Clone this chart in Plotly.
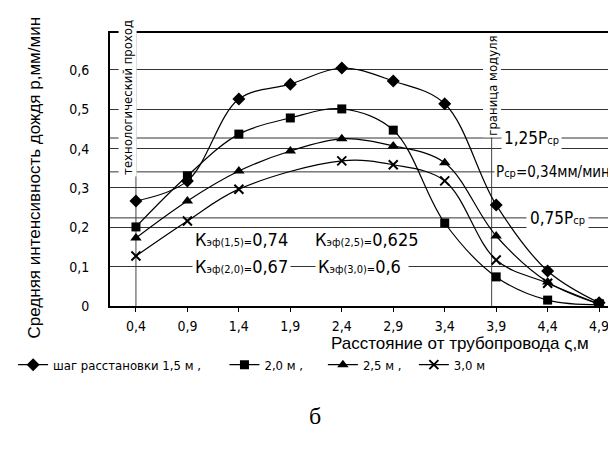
import plotly.graph_objects as go

# ---- data ----
distance = [0.4, 0.9, 1.4, 1.9, 2.4, 2.9, 3.4, 3.9, 4.4, 4.9]
step_15 = [0.267, 0.318, 0.526, 0.564, 0.605, 0.572, 0.514, 0.257, 0.089, 0.008]
step_20 = [0.201, 0.331, 0.437, 0.478, 0.501, 0.447, 0.211, 0.074, 0.015, 0.003]
step_25 = [0.173, 0.267, 0.343, 0.394, 0.425, 0.407, 0.364, 0.178, 0.061, 0.005]
distance_30 = [0.4, 0.9, 1.4, 2.4, 2.9, 3.4, 3.9, 4.4, 4.9]
step_30 = [0.127, 0.216, 0.297, 0.369, 0.359, 0.318, 0.117, 0.058, 0.005]

series_names = ["шаг расстановки 1,5 м ,", "2,0 м ,", "2,5 м ,", "3,0 м"]
legend_pad = [5, 4, 2, 0]   # extra spacing after each legend entry

x_tickvals = [0.4, 0.9, 1.4, 1.9, 2.4, 2.9, 3.4, 3.9, 4.4, 4.9]
x_ticktext = ["0,4", "0,9", "1,4", "1,9", "2,4", "2,9", "3,4", "3,9", "4,4", "4,9"]
y_tickvals = [0, 0.1, 0.2, 0.3, 0.4, 0.5, 0.6]
y_ticktext = ["0", "0,1", "0,2", "0,3", "0,4", "0,5", "0,6"]

ref_levels = [0.427, 0.341, 0.224]          # 1,25Pср ; Pср ; 0,75Pср
passage_x = 0.4                              # технологический проход
module_x = 3.856                             # граница модуля
module_top = 0.43

NARROW = "DejaVu Sans Condensed, Liberation Sans Narrow, Liberation Sans, Arial"
REG = "Liberation Sans, Arial"
SMALL = "<span style='font-size:11px'>"

names = [n + "\u00a0" * p for n, p in zip(series_names, legend_pad)]

fig = go.Figure()

line_style = dict(color="black", width=1.2, shape="spline", smoothing=1.0)
fig.add_trace(go.Scatter(x=distance, y=step_15, mode="lines+markers", name=names[0],
                         line=line_style, marker=dict(symbol="diamond", size=10, color="black")))
fig.add_trace(go.Scatter(x=distance, y=step_20, mode="lines+markers", name=names[1],
                         line=line_style, marker=dict(symbol="square", size=9, color="black")))
fig.add_trace(go.Scatter(x=distance, y=step_25, mode="lines+markers", name=names[2],
                         line=line_style, marker=dict(symbol="triangle-up", size=10, color="black")))
fig.add_trace(go.Scatter(x=distance_30, y=step_30, mode="lines+markers", name=names[3],
                         line=line_style,
                         marker=dict(symbol="x-thin", size=9, color="black",
                                     line=dict(color="black", width=2))))

# reference horizontal lines
for lv in ref_levels:
    fig.add_shape(type="line", xref="paper", x0=0, x1=1, yref="y", y0=lv, y1=lv,
                  line=dict(color="#333", width=1), layer="below")
# vertical lines
fig.add_shape(type="line", xref="x", x0=passage_x, x1=passage_x, yref="paper", y0=0, y1=1,
              line=dict(color="#444", width=1), layer="below")
fig.add_shape(type="line", xref="x", x0=module_x, x1=module_x, yref="y", y0=0, y1=module_top,
              line=dict(color="#444", width=1), layer="below")

ann = []
def txt(x, y, t, size=15, fam=NARROW, bg=None, angle=0, **kw):
    d = dict(x=x, y=y, xref="x", yref="y", text=t, showarrow=False,
             font=dict(family=fam, size=size, color="black"), textangle=angle)
    if bg:
        d.update(bgcolor=bg)
    d.update(kw)
    ann.append(d)

txt(1.43, 0.168, "К" + SMALL + "эф(1,5)=</span>0,74", size=18)
txt(1.43, 0.1, "К" + SMALL + "эф(2,0)=</span>0,67", size=18, bg="white", borderpad=2)
txt(2.646, 0.168, "К" + SMALL + "эф(2,5)=</span>0,625", size=18)
txt(2.6, 0.1, "К" + SMALL + "эф(3,0)=</span>0,6 ", size=18, bg="white", borderpad=2)
txt(4.243, ref_levels[0], "1,25P" + SMALL + "ср</span>", size=17, bg="white", borderpad=2)
txt(4.45, ref_levels[1], "P" + SMALL + "ср</span>=0,34мм/мин", size=15, bg="white", borderpad=1)
txt(4.495, ref_levels[2], "0,75P" + SMALL + "ср</span>", size=17, bg="white", borderpad=3)
txt(0.323, 0.529, "технологический проход", size=13, angle=-90, bg="white")
txt(module_x, 0.559, "граница модуля", size=13, angle=-90, bg="white")

ann.append(dict(x=-0.17, y=0.47, xref="paper", yref="paper", showarrow=False, textangle=-90,
                text="Средняя интенсивность дождя p,мм/мин", yanchor="middle",
                font=dict(family=REG, size=17, color="black")))
ann.append(dict(x=(585 - 102) / 512, y=-(335 - 298) / 273, xref="paper", yref="paper",
                showarrow=False, text="Расстояние от трубопровода ς,м",
                xanchor="right", yanchor="middle",
                font=dict(family=REG, size=17, color="black")))
ann.append(dict(x=0.402, y=-0.459, xref="paper", yref="paper", showarrow=False,
                text="б", font=dict(family="Liberation Serif, DejaVu Serif", size=24, color="black")))

fig.update_layout(
    width=616, height=459,
    margin=dict(l=102, r=2, t=25, b=161),
    paper_bgcolor="white", plot_bgcolor="white",
    showlegend=True,
    legend=dict(orientation="h", x=-0.19, xanchor="left", y=-0.215, yanchor="middle",
                font=dict(family=NARROW, size=13, color="black"),
                bgcolor="rgba(0,0,0,0)", itemwidth=30, tracegroupgap=0),
    annotations=ann,
    font=dict(family=NARROW, color="black"),
)
fig.update_xaxes(range=[0.148, 5.103], tickvals=x_tickvals, ticktext=x_ticktext,
                 showgrid=False, zeroline=False, showline=True, linecolor="black", linewidth=2,
                 mirror=True, ticks="outside", ticklen=4, tickcolor="black",
                 tickfont=dict(family=NARROW, size=14, color="black"), ticklabelstandoff=2)
fig.update_yaxes(range=[0, 0.694], tickvals=y_tickvals, ticktext=y_ticktext,
                 showgrid=True, gridcolor="#333", gridwidth=1, zeroline=False,
                 showline=True, linecolor="black", linewidth=2, mirror=True, ticks="",
                 tickfont=dict(family=NARROW, size=14, color="black"), ticklabelstandoff=16)

fig.write_html("out.html")
